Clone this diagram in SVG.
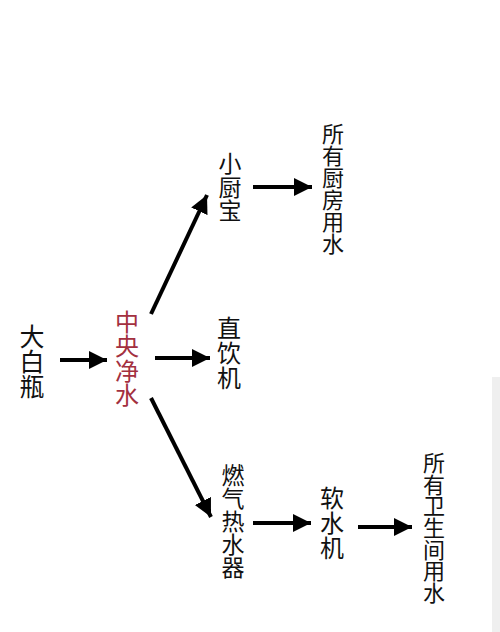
<svg xmlns="http://www.w3.org/2000/svg" width="500" height="632" viewBox="0 0 500 632">
<defs>
<style>
text{font-family:"Noto Sans CJK SC","Noto Sans",sans-serif;fill:#111;writing-mode:vertical-rl;text-orientation:upright}
.red{fill:#a3303f}
.c line{stroke:#000;stroke-width:4;fill:none}
</style>
<marker id="ah" markerUnits="userSpaceOnUse" markerWidth="20" markerHeight="20" viewBox="0 0 20 20" refX="18" refY="10" orient="auto">
<path d="M0,1 L18,10 L0,19 Z" fill="#000"/>
</marker>
</defs>
<rect width="500" height="632" fill="#fff"/>
<rect x="492" y="377" width="8" height="255" fill="#efefef"/>
<g id="n-dabaiping">
<text x="32" y="324" font-size="25">大白瓶</text>
</g>
<g id="n-zhongyang">
<text class="red" x="127" y="310" font-size="24" letter-spacing="0.3">中央净水</text>
</g>
<g id="n-xiaochubao">
<text x="230" y="152" font-size="23" letter-spacing="0.5">小厨宝</text>
</g>
<g id="n-kitchen">
<text x="333" y="122.6" font-size="22">所有厨房用水</text>
</g>
<g id="n-zhiyinji">
<text x="229" y="316" font-size="24" letter-spacing="1">直饮机</text>
</g>
<g id="n-heater">
<text x="233" y="464" font-size="23">燃气热水器</text>
</g>
<g id="n-softener">
<text x="332" y="486" font-size="24" letter-spacing="1">软水机</text>
</g>
<g id="n-bathroom">
<text x="434" y="451.6" font-size="22" letter-spacing="-0.33">所有卫生间用水</text>
</g>
<g id="connectors" class="c">
<line x1="60" y1="360" x2="107" y2="360" marker-end="url(#ah)"/>
<line x1="155" y1="358" x2="210" y2="358" marker-end="url(#ah)"/>
<line x1="151" y1="314" x2="207" y2="195" marker-end="url(#ah)"/>
<line x1="151" y1="398" x2="211" y2="517" marker-end="url(#ah)"/>
<line x1="253" y1="187" x2="312" y2="187" marker-end="url(#ah)"/>
<line x1="253" y1="523" x2="311" y2="523" marker-end="url(#ah)"/>
<line x1="358" y1="527" x2="412" y2="527" marker-end="url(#ah)"/>
</g>
</svg>
